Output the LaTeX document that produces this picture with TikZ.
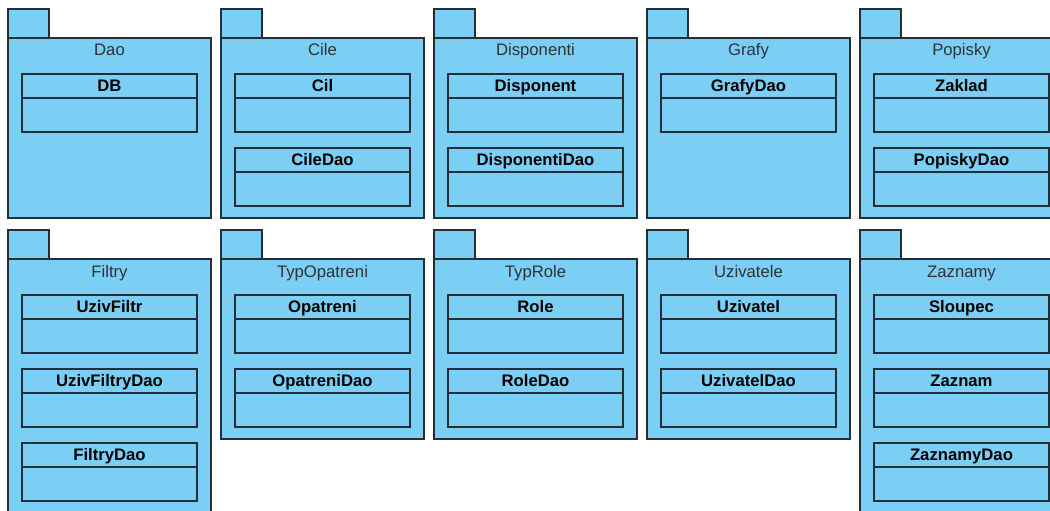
\documentclass[tikz,border=0pt]{standalone}
\usepackage{fontspec}
\setmainfont{Liberation Sans}

\definecolor{pkgfill}{RGB}{123,207,245}
\definecolor{pkgline}{RGB}{36,46,54}
\definecolor{pkgtext}{RGB}{45,50,55}

\tikzset{
  pkgtab/.style={draw=pkgline, fill=pkgfill, line width=0.9pt, anchor=north west,
    inner sep=0pt, outer sep=0pt, minimum width=0.82cm, minimum height=0.58cm},
  pkgbody/.style={draw=pkgline, fill=pkgfill, line width=0.9pt, anchor=north west,
    inner sep=0pt, outer sep=0pt, minimum width=4.06cm},
  pkgtitle/.style={text=pkgtext, font=\fontsize{9.5}{11}\selectfont, inner sep=0pt,
    anchor=base},
  clshead/.style={draw=pkgline, fill=pkgfill, line width=0.9pt, anchor=north west,
    inner sep=0pt, outer sep=0pt, minimum width=3.5cm, minimum height=0.48cm,
    text height=7.5pt, text depth=1.5pt,
    font=\fontsize{9.5}{11}\selectfont\bfseries},
  clsbody/.style={draw=pkgline, fill=pkgfill, line width=0.9pt, anchor=north,
    inner sep=0pt, outer sep=0pt, minimum width=3.5cm, minimum height=0.68cm}
}

% package: name, x, y, height, title
\newcommand{\umlpackage}[5]{%
  \node[pkgtab] (#1tab) at (#2,#3) {};
  \node[pkgbody, minimum height=#4] (#1) at (#2,#3+29) {};
  \node[pkgtitle] (#1title) at (#2+101.5,#3+47) {#5};
}
% class: name, x, y, title
\newcommand{\umlclass}[4]{%
  \node[clshead] (#1) at (#2,#3) {#4};
  \node[clsbody] (#1body) at (#1.south) {};
}

\begin{document}
\begin{tikzpicture}[x=0.02cm, y=-0.02cm]
        \useasboundingbox (0,0) rectangle (1050,510);
        \clip (0,0) rectangle (1050,510);

        % the packages, first row
        \umlpackage{dao}{8}{9}{3.6cm}{Dao}
        \umlpackage{cile}{221}{9}{3.6cm}{Cile}
        \umlpackage{disponenti}{434}{9}{3.6cm}{Disponenti}
        \umlpackage{grafy}{647}{9}{3.6cm}{Grafy}
        \umlpackage{popisky}{860}{9}{3.6cm}{Popisky}

        % the packages, second row
        \umlpackage{filtry}{8}{230}{6cm}{Filtry}
        \umlpackage{typopatreni}{221}{230}{3.6cm}{TypOpatreni}
        \umlpackage{typrole}{434}{230}{3.6cm}{TypRole}
        \umlpackage{uzivatele}{647}{230}{3.6cm}{Uzivatele}
        \umlpackage{zaznamy}{860}{230}{6cm}{Zaznamy}

        % the classes in the first row
        \umlclass{db}{22}{74}{DB}
        \umlclass{cil}{235}{74}{Cil}
        \umlclass{ciledao}{235}{148}{CileDao}
        \umlclass{disponent}{448}{74}{Disponent}
        \umlclass{disponentidao}{448}{148}{DisponentiDao}
        \umlclass{grafydao}{661}{74}{GrafyDao}
        \umlclass{zaklad}{874}{74}{Zaklad}
        \umlclass{popiskydao}{874}{148}{PopiskyDao}

        % the classes in the second row
        \umlclass{uzivfiltr}{22}{295}{UzivFiltr}
        \umlclass{uzivfiltrydao}{22}{369}{UzivFiltryDao}
        \umlclass{filtrydao}{22}{443}{FiltryDao}
        \umlclass{opatreni}{235}{295}{Opatreni}
        \umlclass{opatrenidao}{235}{369}{OpatreniDao}
        \umlclass{role}{448}{295}{Role}
        \umlclass{roledao}{448}{369}{RoleDao}
        \umlclass{uzivatel}{661}{295}{Uzivatel}
        \umlclass{uzivateldao}{661}{369}{UzivatelDao}
        \umlclass{sloupec}{874}{295}{Sloupec}
        \umlclass{zaznam}{874}{369}{Zaznam}
        \umlclass{zaznamydao}{874}{443}{ZaznamyDao}

    \end{tikzpicture}
\end{document}
